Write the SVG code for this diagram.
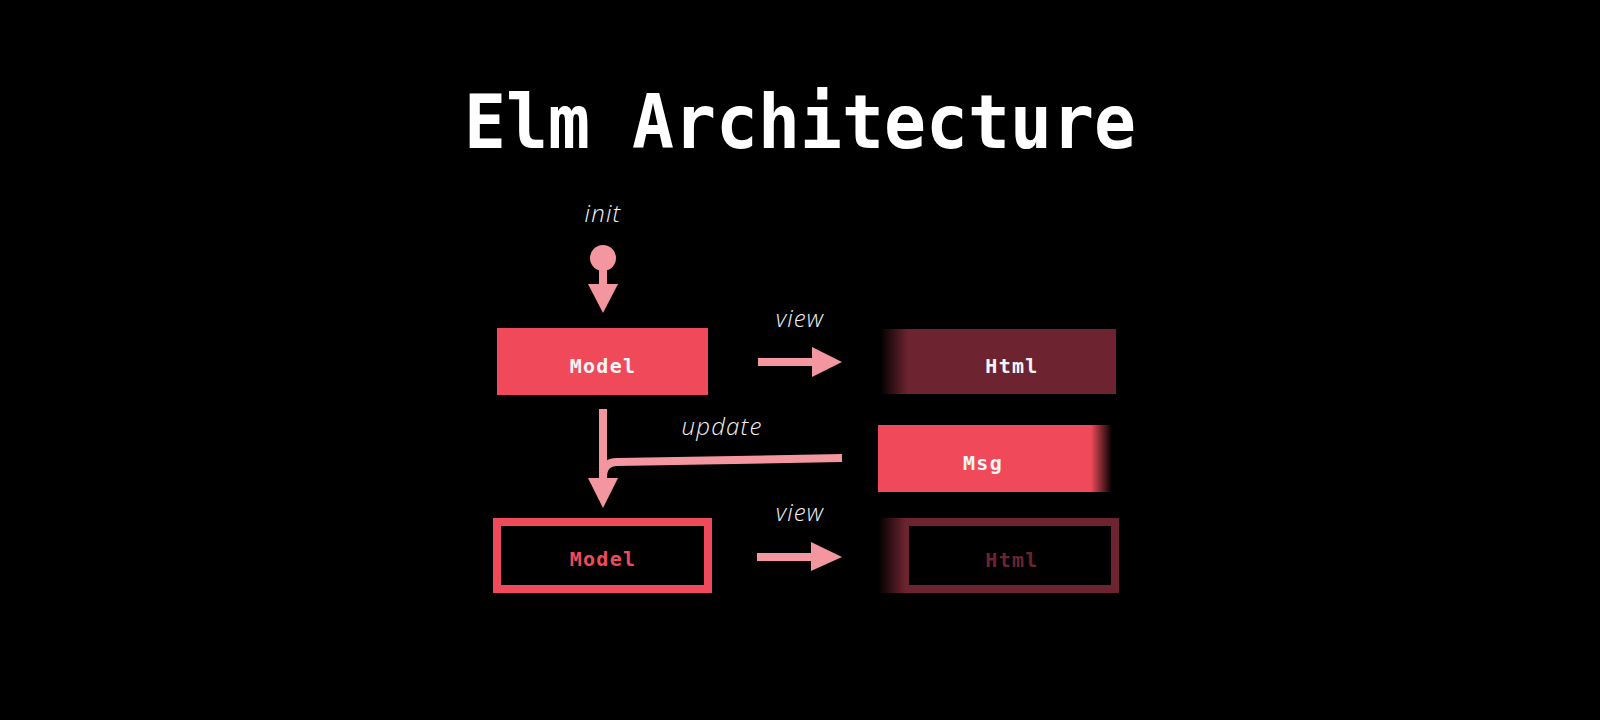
<svg xmlns="http://www.w3.org/2000/svg" width="1600" height="720" viewBox="0 0 1600 720">
  <style>
    .title { font-family: "DejaVu Sans Mono", "Liberation Mono", monospace; font-weight: bold; font-size: 74px; fill: #ffffff; }
    .node { font-family: "DejaVu Sans Mono", "Liberation Mono", monospace; font-weight: bold; font-size: 20px; letter-spacing: 1.3px; text-anchor: middle; }
    .lbl { font-family: "Open Sans", "DejaVu Sans", sans-serif; font-style: italic; font-weight: 300; font-size: 24px; fill: #f2f2f2; text-anchor: middle; letter-spacing: 1.2px; }
    .pink { fill: #f4969f; }
    .pinkline { fill: none; stroke: #f4969f; stroke-width: 8; }
  </style>
  <defs>
    <linearGradient id="fadeHtml" gradientUnits="userSpaceOnUse" x1="880" y1="0" x2="908" y2="0">
      <stop offset="0" stop-color="#000000"/>
      <stop offset="1" stop-color="#6e2430"/>
    </linearGradient>
    <linearGradient id="fadeHtml2" gradientUnits="userSpaceOnUse" x1="878" y1="0" x2="906" y2="0">
      <stop offset="0" stop-color="#000000"/>
      <stop offset="1" stop-color="#6e2430"/>
    </linearGradient>
    <linearGradient id="fadeMsg" gradientUnits="userSpaceOnUse" x1="1091" y1="0" x2="1112" y2="0">
      <stop offset="0" stop-color="#f04a5a"/>
      <stop offset="1" stop-color="#000000"/>
    </linearGradient>
  </defs>
  <rect width="1600" height="720" fill="#000000"/>

  <text class="title" x="464" y="148" textLength="672" lengthAdjust="spacingAndGlyphs">Elm Architecture</text>

  <g id="connectors">
    <g id="init-arrow">
      <circle class="pink" cx="603" cy="258" r="13"/>
      <rect class="pink" x="599" y="258" width="8" height="28"/>
      <polygon class="pink" points="588,284 618,284 603,313"/>
    </g>
    <g id="view-arrow-1">
      <rect class="pink" x="758" y="358" width="57" height="8"/>
      <polygon class="pink" points="812,347 812,377 842,362"/>
    </g>
    <g id="update-arrow">
      <line class="pinkline" x1="603" y1="409" x2="603" y2="482"/>
      <path class="pinkline" d="M842 458 L617 462 Q603 462 603 477"/>
      <polygon class="pink" points="588,478 618,478 603,508"/>
    </g>
    <g id="view-arrow-2">
      <rect class="pink" x="757" y="553" width="58" height="8"/>
      <polygon class="pink" points="811,542 811,571 842,557"/>
    </g>
  </g>

  <g id="labels">
    <text class="lbl" x="603" y="222">init</text>
    <text class="lbl" x="800" y="327">view</text>
    <text class="lbl" x="722" y="435">update</text>
    <text class="lbl" x="800" y="521">view</text>
  </g>

  <g id="model1">
    <rect x="497" y="328" width="211" height="67" fill="#f04a5a"/>
    <text class="node" x="603" y="373" fill="#f5f5f5">Model</text>
  </g>
  <g id="html1">
    <rect x="880" y="329" width="236" height="65" fill="url(#fadeHtml)"/>
    <text class="node" x="1012" y="373" fill="#f5f5f5">Html</text>
  </g>
  <g id="msg">
    <rect x="878" y="425" width="234" height="67" fill="url(#fadeMsg)"/>
    <text class="node" x="983" y="470" fill="#f5f5f5">Msg</text>
  </g>
  <g id="model2">
    <rect x="497" y="522" width="211" height="67" fill="none" stroke="#f04a5a" stroke-width="8"/>
    <text class="node" x="603" y="566" fill="#f04a5a">Model</text>
  </g>
  <g id="html2">
    <rect x="905" y="522" width="210" height="67" fill="none" stroke="#6e2430" stroke-width="8"/>
    <rect x="878" y="518" width="28" height="75" fill="url(#fadeHtml2)"/>
    <text class="node" x="1012" y="567" fill="#6e2430">Html</text>
  </g>
</svg>
